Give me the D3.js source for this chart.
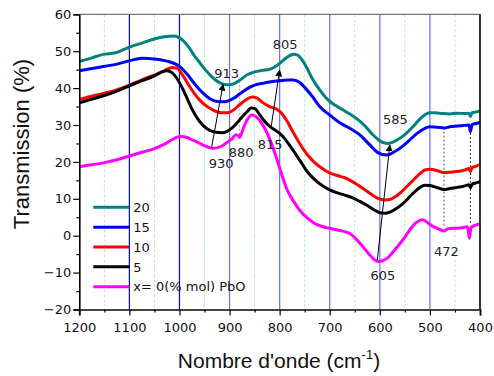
<!DOCTYPE html>
<html><head><meta charset="utf-8">
<script src="https://cdn.jsdelivr.net/npm/d3@7"></script>
<style>body{margin:0;background:#fff}svg{display:block}</style>
</head><body><svg id="c" width="494" height="376"></svg>
<script>
// ---------- data ----------
const seriesNames = ["20", "15", "10", "5", "x= 0(% mol) PbO"];
const seriesColors = ["#008080", "#0000ff", "#ff0000", "#000000", "#ff00ff"];

const wn20 = [1200,1175,1150,1130,1100,1075,1050,1030,1010,1000,990,980,970,960,950,940,930,920,910,900,890,880,865,850,835,820,810,800,790,780,772,765,755,745,735,720,705,690,675,660,645,630,615,600,590,585,575,565,550,535,520,510,500,490,475,460,445,430,422,419,416,410,400];
const t20  = [47.2,48.2,49.2,49.5,51.1,52.2,53.3,53.9,54.1,53.6,52.5,50.8,48.7,47.0,45.2,43.7,42.4,41.5,41.0,40.9,41.3,42.1,43.6,44.4,44.8,45.1,45.7,46.7,47.9,48.8,49.2,49.0,47.6,45.3,42.6,39.5,37.0,35.4,34.2,33.0,31.6,29.8,27.5,25.7,25.1,25.0,25.3,26.0,27.4,29.4,31.6,32.8,33.3,33.3,33.1,33.0,33.2,33.1,33.2,32.3,33.3,33.5,33.8];

const wn15 = [1200,1175,1150,1125,1100,1075,1050,1025,1000,985,970,955,940,925,910,900,890,880,865,850,830,815,800,785,772,760,750,735,720,700,680,660,640,620,605,595,585,570,555,540,525,510,500,485,472,460,445,430,422,419,416,408,400];
const t15  = [44.7,45.3,45.9,46.5,47.4,48.1,47.9,47.3,45.9,43.8,41.2,38.9,37.2,36.4,36.3,36.7,37.4,38.4,39.8,40.8,41.4,41.8,42.0,42.2,42.2,41.5,40.2,37.8,35.0,32.7,30.6,29.1,27.3,24.6,22.6,22.0,21.9,22.8,24.2,26.0,27.8,29.1,29.5,29.4,29.2,29.5,29.7,29.9,30.0,28.2,30.1,30.4,30.7];

const wn10 = [1200,1175,1150,1125,1100,1075,1050,1030,1015,1005,995,980,965,950,935,920,905,895,880,865,855,845,835,820,805,795,785,775,760,745,730,715,700,685,670,650,635,620,605,590,580,570,560,550,535,520,510,500,485,472,460,445,430,422,419,416,408,400];
const t10  = [36.9,37.8,38.6,39.5,40.8,42.2,43.6,44.7,45.6,45.4,43.8,40.5,37.6,35.5,34.2,33.4,33.3,33.8,35.5,37.0,37.6,37.3,36.2,35.0,34.2,33.0,31.0,28.5,25.0,22.0,19.8,18.2,17.0,16.3,15.7,14.3,12.9,11.5,10.2,9.7,9.8,10.5,11.5,12.8,14.8,16.8,17.8,18.0,17.6,17.1,17.2,17.4,17.8,18.2,17.4,18.4,18.8,19.3];

const wn5 = [1200,1175,1150,1125,1100,1075,1050,1035,1025,1015,1005,995,985,975,960,945,930,915,905,895,885,875,865,857,850,840,830,820,810,800,790,780,770,760,745,730,715,700,685,670,655,640,625,610,600,590,580,570,560,550,535,520,510,500,485,472,460,445,430,422,419,416,408,400];
const t5  = [36.0,37.0,38.0,39.2,40.6,42.0,43.3,44.4,44.7,44.2,42.6,40.2,37.3,34.3,31.0,29.0,28.1,27.9,28.3,29.2,30.6,32.2,33.6,34.6,34.5,32.8,31.0,29.6,28.7,27.7,26.3,24.5,22.5,20.5,17.4,15.2,13.6,12.4,11.6,11.0,10.3,9.3,8.2,6.9,6.2,6.1,6.4,7.1,8.0,9.2,11.3,13.1,13.7,13.6,13.0,12.5,12.8,13.1,13.5,13.8,13.0,13.9,14.3,14.6];

const wn0 = [1200,1175,1150,1125,1100,1075,1050,1030,1015,1005,995,985,975,965,955,945,935,925,915,905,895,888,883,880,877,870,862,856,850,842,835,825,815,805,795,785,772,760,745,730,715,700,680,660,650,640,630,620,610,603,595,585,575,565,555,545,535,525,515,505,495,485,472,465,455,445,435,425,421,418,410,400];
const t0  = [18.7,19.2,19.8,20.6,21.6,22.6,23.6,24.8,26.0,26.7,26.9,26.6,26.0,25.4,24.7,24.1,23.7,23.8,24.3,25.3,26.3,27.3,27.3,26.6,27.4,30.0,32.0,32.7,32.5,31.6,30.3,27.8,24.5,20.5,16.2,12.4,9.3,6.9,4.8,3.3,2.5,2.0,1.4,0.6,-0.5,-2.0,-3.6,-5.2,-6.6,-7.0,-6.8,-6.1,-4.6,-3.0,-1.3,0.6,2.5,3.8,4.3,3.6,2.6,2.0,1.3,1.8,2.0,2.0,2.2,2.4,-0.7,2.2,2.8,3.2];

const xTicks = [1200,1100,1000,900,800,700,600,500,400];
const xMinor = [1150,1050,950,850,750,650,550,450];
const yTicks = [-20,-10,0,10,20,30,40,50,60];
const yMinor = [-15,-5,5,15,25,35,45,55];
const majorGrid = [1100,1000,900,800,700,600,500];

// annotation labels (anchored in data units)
const annText = ["913","930","880","815","805","585","605","472"];
const annWn   = [906,917,877,819,789,569,594,467];
const annT    = [42.7,18.3,21.3,23.5,50.5,30.2,-12.0,-5.5];
// arrows: from (wn,t) to (wn,t)
const arrFromWn = [936,817,605];
const arrFromT  = [23.8,29.5,-6.6];
const arrToWn   = [913,800,580];
const arrToT    = [41.0,44.9,24.6];
// dotted marker lines
const dotWn   = [880,472,419];
const dotTop  = [42.0,29.3,30.0];
const dotBot  = [27.0,2.4,3.2];
const dotCol  = ["#aaaaaa","#555555","#333333"];

// ---------- drawing ----------
const svg = d3.select("#c");
const x = d3.scaleLinear().domain([1200,400]).range([79.3,480]);
const y = d3.scaleLinear().domain([-20,60]).range([309.5,14.3]);

const g = svg.append("g");
// minor green dashed grid
g.selectAll(".mg").data(xMinor).join("line")
  .attr("x1",d=>x(d)).attr("x2",d=>x(d)).attr("y1",y(60)).attr("y2",y(-20))
  .attr("stroke","#b4f0b4").attr("stroke-width",1).attr("stroke-dasharray","3,2");
// major blue grid
g.selectAll(".Mg").data(majorGrid).join("line")
  .attr("x1",d=>x(d)).attr("x2",d=>x(d)).attr("y1",y(60)).attr("y2",y(-20))
  .attr("stroke",d=>d>=1000?"#0000ff":"#6a6aff").attr("stroke-width",1.2);

// dotted marker lines
g.selectAll(".dl").data(dotWn).join("line")
  .attr("x1",d=>x(d)).attr("x2",d=>x(d))
  .attr("y1",(d,i)=>y(dotTop[i])).attr("y2",(d,i)=>y(dotBot[i]))
  .attr("stroke",(d,i)=>dotCol[i]).attr("stroke-width",1).attr("stroke-dasharray","2,2");

const series = [[wn20,t20],[wn15,t15],[wn10,t10],[wn5,t5],[wn0,t0]];
const line = d3.line().x(d=>x(d[0])).y(d=>y(d[1])).curve(d3.curveMonotoneX);
const order = [0,1,2,3,4];
order.forEach(i=>{
  const pts = series[i][0].map((w,k)=>[w,series[i][1][k]]);
  g.append("path").attr("d",line(pts)).attr("fill","none")
    .attr("stroke",seriesColors[i]).attr("stroke-width",3).attr("stroke-linejoin","round");
});

// axes
const tickFont = "DejaVu Sans, sans-serif";
const xAxis = g.append("g").attr("transform",`translate(0,${y(-20)})`)
  .call(d3.axisBottom(x).tickValues(xTicks).tickSize(6).tickPadding(7).tickFormat(d3.format("d")));
xAxis.select(".domain").attr("stroke","#444").attr("stroke-width",2);
g.append("g").attr("transform",`translate(0,${y(-20)})`)
  .call(d3.axisBottom(x).tickValues(xMinor).tickSize(3).tickFormat(""))
  .select(".domain").remove();
const yAxis = g.append("g").attr("transform",`translate(${x(1200)},0)`)
  .call(d3.axisLeft(y).tickValues(yTicks).tickSize(6).tickPadding(2).tickFormat(d3.format("d")));
yAxis.select(".domain").attr("stroke","#000").attr("stroke-width",1.6);
g.append("g").attr("transform",`translate(${x(1200)},0)`)
  .call(d3.axisLeft(y).tickValues(yMinor).tickSize(3).tickFormat(""))
  .select(".domain").remove();
g.selectAll(".tick text").attr("font-family",tickFont).attr("font-size",13).attr("fill","#111");
g.selectAll(".tick line").attr("stroke","#000").attr("stroke-width",1.2);

// frame top/right
g.append("line").attr("x1",x(1200)).attr("x2",x(400)).attr("y1",y(60)).attr("y2",y(60)).attr("stroke","#555").attr("stroke-width",1);
g.append("line").attr("x1",x(400)).attr("x2",x(400)).attr("y1",y(60)).attr("y2",y(-20)).attr("stroke","#000").attr("stroke-width",1.6);

// arrows
const defs = svg.append("defs");
defs.append("marker").attr("id","ah").attr("viewBox","0 0 10 10").attr("refX",9).attr("refY",5)
  .attr("markerWidth",7).attr("markerHeight",7).attr("markerUnits","userSpaceOnUse").attr("orient","auto")
  .append("path").attr("d","M0,0 L10,5 L0,10 Z").attr("fill","#000");
g.selectAll(".ar").data(arrFromWn).join("line")
  .attr("x1",d=>x(d)).attr("y1",(d,i)=>y(arrFromT[i]))
  .attr("x2",(d,i)=>x(arrToWn[i])).attr("y2",(d,i)=>y(arrToT[i]))
  .attr("stroke","#000").attr("stroke-width",1).attr("marker-end","url(#ah)");

// annotation labels
g.selectAll(".an").data(annText).join("text")
  .attr("x",(d,i)=>x(annWn[i])).attr("y",(d,i)=>y(annT[i]))
  .attr("text-anchor","middle").attr("font-family",tickFont).attr("font-size",13).attr("fill","#222")
  .text(d=>d);

// legend
const lg = g.append("g");
seriesNames.forEach((n,i)=>{
  const yy = 207.3 + i*19.85;
  lg.append("line").attr("x1",93.3).attr("x2",129.3).attr("y1",yy).attr("y2",yy)
    .attr("stroke",seriesColors[i]).attr("stroke-width",3);
  lg.append("text").attr("x",133.3).attr("y",yy).attr("dy","0.36em")
    .attr("font-family",tickFont).attr("font-size",13).attr("fill","#111").text(n);
});

// axis titles
const xt = svg.append("text").attr("x",279).attr("y",368).attr("text-anchor","middle")
  .attr("font-family","Liberation Sans, Arial, sans-serif").attr("font-size",21).attr("fill","#111");
xt.append("tspan").text("Nombre d'onde (cm");
xt.append("tspan").attr("font-size",13).attr("dy",-9).text("-1");
xt.append("tspan").attr("dy",9).text(")");

svg.append("text").attr("transform","translate(28.5,144) rotate(-90)").attr("text-anchor","middle")
  .attr("font-family","Liberation Sans, Arial, sans-serif").attr("font-size",22).attr("fill","#111")
  .text("Transmission (%)");
</script></body></html>
